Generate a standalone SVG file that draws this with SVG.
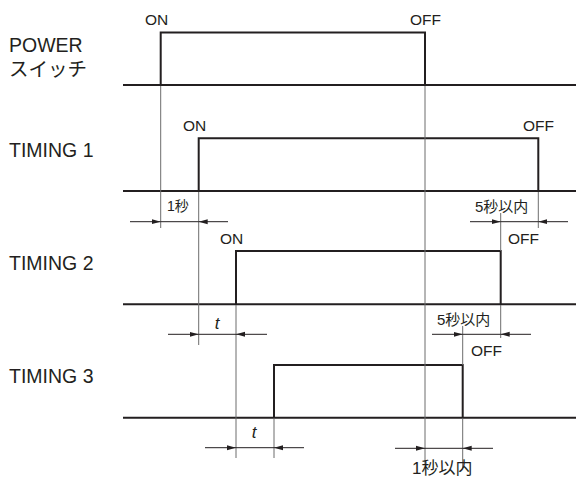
<svg xmlns="http://www.w3.org/2000/svg" width="576" height="477" viewBox="0 0 576 477">
<defs>
<marker id="ah" markerUnits="userSpaceOnUse" markerWidth="10" markerHeight="7" refX="9" refY="3.5" orient="auto">
<path d="M0,1 L9,3.5 L0,6 Z" fill="#231f20"/>
</marker>
<style>
.sig{fill:none;stroke:#231f20;stroke-width:2}
.ext{fill:none;stroke:#6d6d6d;stroke-width:1}
.dim{fill:none;stroke:#231f20;stroke-width:1}
.arr{fill:none;stroke:#231f20;stroke-width:1;marker-end:url(#ah)}
.lbl{font-family:"Liberation Sans","Noto Sans CJK JP",sans-serif;fill:#231f20;font-size:19.5px}
.st{font-family:"Liberation Sans","Noto Sans CJK JP",sans-serif;fill:#231f20;font-size:15.5px}
.it{font-family:"Liberation Sans",sans-serif;font-style:italic;fill:#231f20;font-size:17px;text-anchor:middle}
</style>
</defs>
<rect width="576" height="477" fill="#fff"/>
<g id="labels">
<text class="lbl" x="9" y="52">POWER</text>
<text class="lbl" x="9" y="76">スイッチ</text>
<text class="lbl" x="9" y="157">TIMING 1</text>
<text class="lbl" x="9" y="270">TIMING 2</text>
<text class="lbl" x="9" y="383">TIMING 3</text>
</g>
<g id="power">
<path class="sig" d="M123,85 H576 M160.7,85 V32.5 H425 V85"/>
<text class="st" x="145" y="25">ON</text>
<text class="st" x="410" y="25">OFF</text>
</g>
<g id="timing1">
<path class="sig" d="M123,191 H576 M198.7,191 V138.3 H538.3 V191"/>
<text class="st" x="183" y="131">ON</text>
<text class="st" x="523" y="131">OFF</text>
</g>
<g id="timing2">
<path class="sig" d="M123,304.3 H576 M236,304.3 V251 H500.7 V304.3"/>
<text class="st" x="220" y="244">ON</text>
<text class="st" x="508" y="244">OFF</text>
</g>
<g id="timing3">
<path class="sig" d="M123,417.7 H576 M274,417.7 V365 H462.7 V417.7"/>
<text class="st" x="471" y="356">OFF</text>
</g>
<g id="connectors">
<path class="ext" d="M160.7,86 V228 M198.7,192 V345 M236,305 V458 M274,418.7 V458 M425,86 V465 M538.3,192 V228 M500.7,213 V251 M500.7,305 V338 M462.7,326 V365 M462.7,418.7 V468"/>
<path class="dim" d="M160.7,221.7 H198.7 M500.7,221.7 H538.3 M198.7,334.3 H236 M462.7,334.3 H500.7 M236,447.7 H274 M425,448.3 H462.7"/>
<path class="arr" d="M130,221.7 H160.7"/>
<path class="arr" d="M228,221.7 H198.7"/>
<path class="arr" d="M470,221.7 H500.7"/>
<path class="arr" d="M568,221.7 H538.3"/>
<path class="arr" d="M168,334.3 H198.7"/>
<path class="arr" d="M267,334.3 H236"/>
<path class="arr" d="M432,334.3 H462.7"/>
<path class="arr" d="M531,334.3 H500.7"/>
<path class="arr" d="M205,447.7 H236"/>
<path class="arr" d="M304,447.7 H274"/>
<path class="arr" d="M395,448.3 H425"/>
<path class="arr" d="M493,448.3 H462.7"/>
<text class="st" x="167" y="211" style="font-size:14px">1秒</text>
<text class="st" x="475" y="212" style="font-size:15px">5秒以内</text>
<text class="st" x="437" y="325" style="font-size:15px">5秒以内</text>
<text class="it" x="217" y="329">t</text>
<text class="it" x="254" y="438">t</text>
<text class="st" x="412" y="474" style="font-size:17px">1秒以内</text>
</g>
</svg>
